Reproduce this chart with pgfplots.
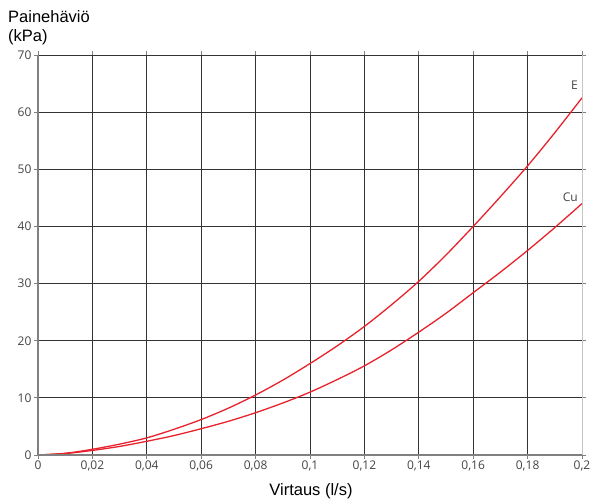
\documentclass[border=0pt]{standalone}
\usepackage{fontspec}
\setmainfont{Liberation Sans}
\newfontfamily\tickfont{Open Sans}
\usepackage{pgfplots}
\pgfplotsset{compat=1.18}
\definecolor{curvered}{HTML}{E8222C}
\definecolor{tickgray}{HTML}{444444}
\begin{document}
\begin{tikzpicture}[x=1pt,y=1pt]
\path[use as bounding box] (0,0) rectangle (604,502);
\begin{axis}[
  at={(38pt,47pt)}, anchor=south west,
  width=544pt, height=400pt, scale only axis,
  xmin=0, xmax=0.2, ymin=0, ymax=70,
  xtick={0,0.02,...,0.2},
  xticklabels={0,{0,02},{0,04},{0,06},{0,08},{0,1},{0,12},{0,14},{0,16},{0,18},{0,2}},
  ytick={0,10,...,70},
  /pgf/number format/assume math mode=true,
  ticklabel style={font=\tickfont\fontsize{12}{14}\selectfont, text=tickgray},
  tick align=outside,
  major tick length=4pt,
  tick style={color=gray, line width=0.8pt},
  grid=major,
  grid style={color=black!80, line width=0.9pt},
  axis line style={draw=none},
  xticklabel style={yshift=1.5pt},
  yticklabel style={xshift=1pt},
  clip=false,
]
\addplot[curvered, line width=1.3pt, smooth] coordinates {
(0,0) (0.01,0.3) (0.02,1.0) (0.03,1.9) (0.04,3.0) (0.05,4.5) (0.06,6.2) (0.07,8.2)
(0.08,10.5) (0.09,13.1) (0.10,16.0) (0.11,19.1) (0.12,22.5) (0.13,26.3) (0.14,30.4)
(0.15,35.0) (0.16,40.0) (0.17,45.2) (0.18,50.6) (0.19,56.4) (0.20,62.5)};
\addplot[curvered, line width=1.3pt, smooth] coordinates {
(0,0) (0.01,0.25) (0.02,0.8) (0.03,1.5) (0.04,2.4) (0.05,3.4) (0.06,4.6) (0.07,5.9)
(0.08,7.4) (0.09,9.1) (0.10,11.0) (0.11,13.2) (0.12,15.6) (0.13,18.4) (0.14,21.5)
(0.15,24.8) (0.16,28.4) (0.17,32.0) (0.18,35.8) (0.19,39.8) (0.20,44.0)};
\draw[gray!45, line width=1pt] (axis cs:0.2,0) -- (axis cs:0.2,70);
\draw[gray, line width=1.2pt] (axis cs:0,0) -- (axis cs:0.2,0);
\draw[gray, line width=1.2pt] (axis cs:0,0) -- (axis cs:0,70);
\node[font=\tickfont\fontsize{12}{14}\selectfont, text=tickgray, anchor=base east, inner sep=0pt] at (axis cs:0.1985,63.9) {E};
\node[font=\tickfont\fontsize{12}{14}\selectfont, text=tickgray, anchor=base east, inner sep=0pt] at (axis cs:0.1985,44.3) {Cu};
\end{axis}
\node[anchor=base west, font=\fontsize{16.5}{19}\selectfont, inner sep=0pt] at (8,479) {Painehäviö};
\node[anchor=base west, font=\fontsize{16.5}{19}\selectfont, inner sep=0pt] at (8,460) {(kPa)};
\node[anchor=base, font=\fontsize{16.5}{19}\selectfont, inner sep=0pt] at (311,6) {Virtaus (l/s)};
\end{tikzpicture}
\end{document}
